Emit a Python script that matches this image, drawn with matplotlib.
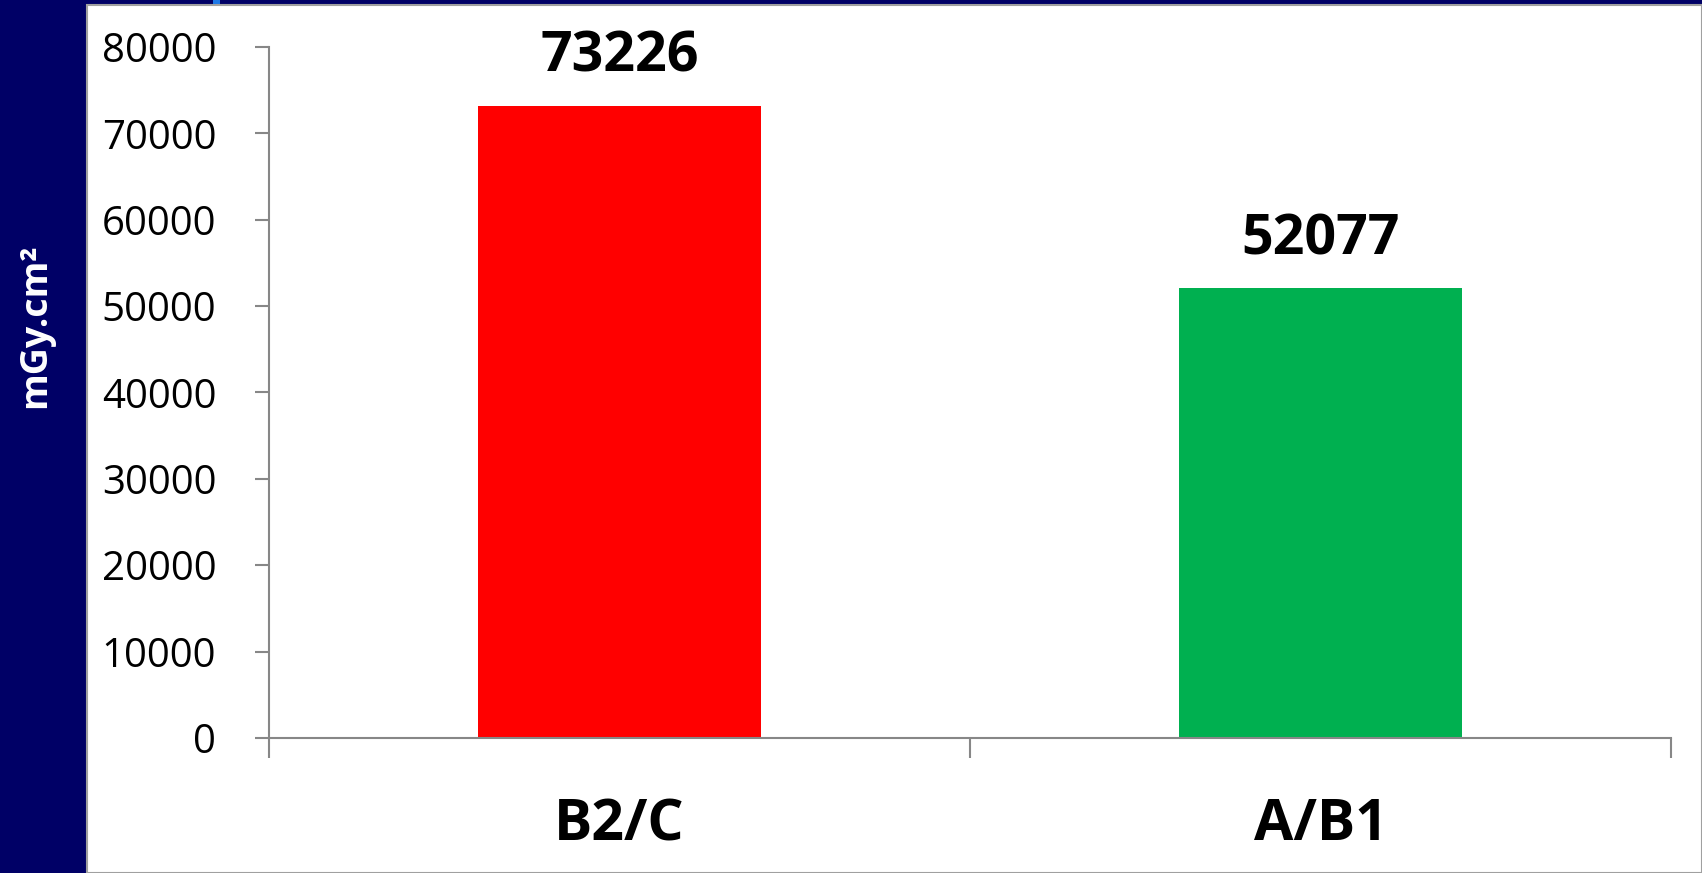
import matplotlib.pyplot as plt
from matplotlib.patches import Rectangle

# Dose-area product per group
groups = ['B2/C', 'A/B1']
dap_values = [73226, 52077]
bar_colors = ['#FF0000', '#00B050']
y_ticks = [0, 10000, 20000, 30000, 40000, 50000, 60000, 70000, 80000]

NAVY = '#000066'
GRAY = '#878787'

fig = plt.figure(figsize=(17.02, 8.73), dpi=100, facecolor=NAVY)

# White slide panel with thin gray border
fig.patches.append(Rectangle((87 / 1702, 0), 1 - 87 / 1702, 1 - 5 / 873,
                             transform=fig.transFigure, facecolor='white',
                             edgecolor='#A0A0A0', linewidth=1.5, zorder=0))
fig.patches.append(Rectangle((213 / 1702, 1 - 4 / 873), 7 / 1702, 4 / 873,
                             transform=fig.transFigure, facecolor='#1E78E6',
                             edgecolor='none', zorder=1))

ax = fig.add_axes([269 / 1702, 1 - 738 / 873, (1671 - 269) / 1702, (738 - 47) / 873])
ax.set_zorder(5)
ax.set_facecolor('none')

x = list(range(len(groups)))
bars = ax.bar(x, dap_values, width=0.405, color=bar_colors, zorder=2)

for rect, val in zip(bars, dap_values):
    ax.annotate(f'{val}', (rect.get_x() + rect.get_width() / 2, val),
                xytext=(0, 15), textcoords='offset points', ha='center', va='bottom',
                fontsize=40, fontweight='bold', family='Open Sans', color='black')

ax.set_xlim(-0.5, len(groups) - 0.5)
ax.set_ylim(0, 80000)
ax.set_yticks(y_ticks)
ax.set_yticklabels([str(t) for t in y_ticks], family='Open Sans', fontsize=29)

ax.set_xticks(x)
ax.set_xticklabels(groups, family='Open Sans', fontsize=41, fontweight='bold')
ax.set_xticks([-0.5, 0.5, 1.5], minor=True)
ax.tick_params(axis='x', which='major', length=0, pad=42)
ax.tick_params(axis='x', which='minor', length=14.4, width=1.5, color=GRAY)
ax.tick_params(axis='y', length=10, width=1.5, color=GRAY, pad=28)

for side in ['top', 'right']:
    ax.spines[side].set_visible(False)
for side in ['left', 'bottom']:
    ax.spines[side].set_color(GRAY)
    ax.spines[side].set_linewidth(1.5)
    ax.spines[side].set_zorder(3)

fig.text(35 / 1702, 1 - 326 / 873, 'mGy.cm²', rotation=90, ha='center', va='center',
         color='white', fontsize=27, fontweight='bold', family='Open Sans', zorder=6)

fig.savefig('out.png', dpi=100, facecolor=NAVY)
